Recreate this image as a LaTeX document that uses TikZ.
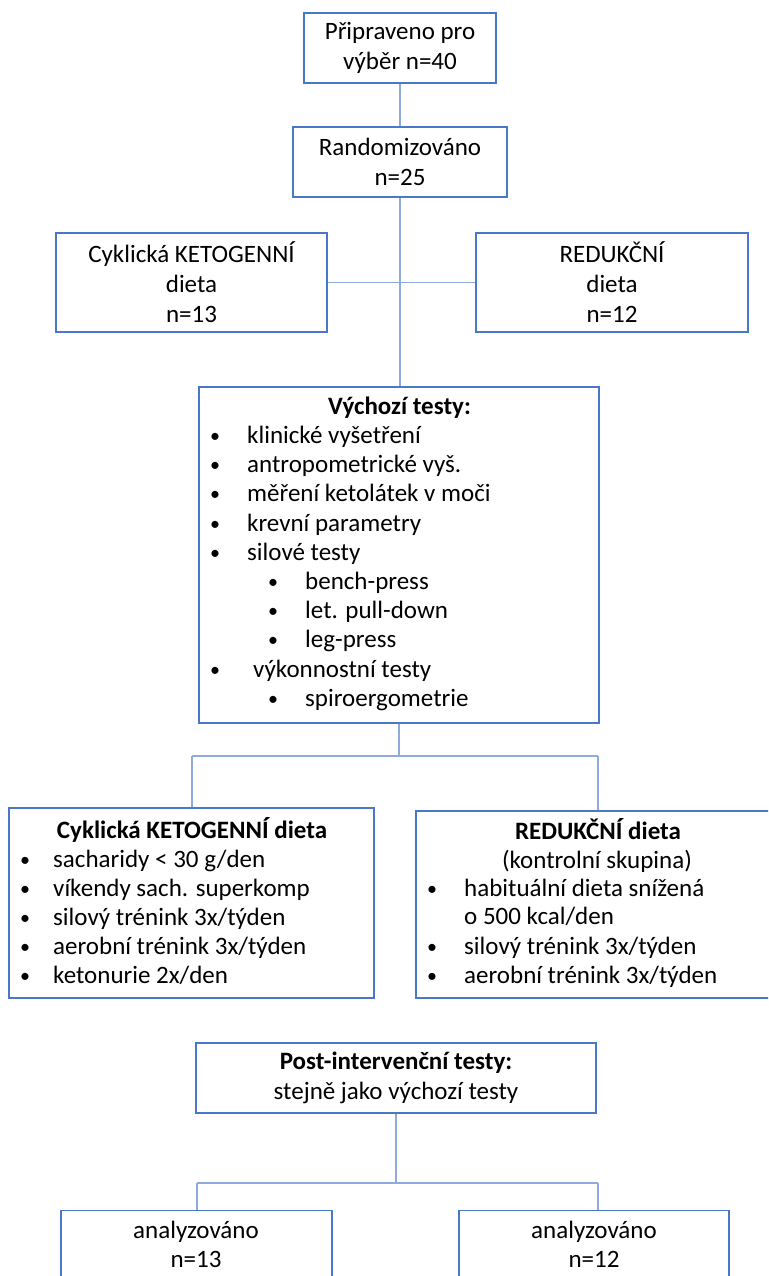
\documentclass[tikz,border=0pt]{standalone}
\usepackage{fontspec}
\setmainfont{Carlito}
\definecolor{boxblue}{HTML}{4A78C9}
\definecolor{linkblue}{HTML}{8FAADC}
\tikzset{
  box/.style={draw=boxblue, line width=1.5pt, fill=white, inner sep=0pt, align=center,
              font=\fontsize{25}{30}\selectfont},
  link/.style={draw=linkblue, line width=1.2pt},
  txt/.style={inner sep=0pt, font=\fontsize{25}{29}\selectfont, text height=17pt, text depth=5pt, anchor=west},
  ctxt/.style={txt, anchor=center},
  btxt/.style={ctxt, font=\fontsize{25}{29}\selectfont\bfseries},
  bul/.style={inner sep=0pt, anchor=center, font=\fontsize{20}{24}\selectfont},
}
\begin{document}
\begin{tikzpicture}[x=1pt, y=-1pt]
\useasboundingbox (0,0) rectangle (768,1276);
\clip (0,0) rectangle (768,1276);

% top boxes
\node[box, minimum width=192pt, minimum height=70pt] (b1) at (400,48) {Připraveno pro\\výběr n=40};
\node[box, minimum width=214pt, minimum height=70pt] (b2) at (400,162) {Randomizováno\\n=25};
\node[box, minimum width=271pt, minimum height=99pt] (ck1) at (191.5,282.5) {Cyklická KETOGENNÍ\\dieta\\n=13};
\node[box, minimum width=272pt, minimum height=99pt] (red1) at (612,282.5) {REDUKČNÍ\\dieta\\n=12};

% baseline tests
\node[box, minimum width=400pt, minimum height=336pt] (vych) at (399,555) {};
\node[btxt] (v0) at (399.5,408) {Výchozí testy:};
\node[bul] (v1b) at (215,438) {•};
\node[txt] (v1)  at (247,437.5) {klinické vyšetření};
\node[bul] (v2b) at (215,467) {•};
\node[txt] (v2)  at (247,466.5) {antropometrické vyš.};
\node[bul] (v3b) at (215,496) {•};
\node[txt] (v3)  at (247,495.5) {měření ketolátek v moči};
\node[bul] (v4b) at (215,525.5) {•};
\node[txt] (v4)  at (247,525) {krevní parametry};
\node[bul] (v5b) at (215,554.5) {•};
\node[txt] (v5)  at (247,554) {silové testy};
\node[bul] (v6b) at (273,584) {•};
\node[txt] (v6)  at (305,583.5) {bench-press};
\node[bul] (v7b) at (273,613) {•};
\node[txt] (v7)  at (305,612.5) {let. pull-down};
\node[bul] (v8b) at (273,642) {•};
\node[txt] (v8)  at (305,641.5) {leg-press};
\node[bul] (v9b) at (215,671.5) {•};
\node[txt] (v9)  at (253,671) {výkonnostní testy};
\node[bul] (v10b) at (273,700.5) {•};
\node[txt] (v10)  at (305,700) {spiroergometrie};

% ketogenic diet arm
\node[box, minimum width=365pt, minimum height=190pt] (ck2) at (191.5,903) {};
\node[btxt] (c0) at (192,832) {Cyklická KETOGENNÍ dieta};
\node[bul] (c1b) at (25,861.5) {•};
\node[txt] (c1)  at (53,861) {sacharidy < 30 g/den};
\node[bul] (c2b) at (25,890.5) {•};
\node[txt] (c2)  at (53,890) {víkendy sach. superkomp};
\node[bul] (c3b) at (25,919.5) {•};
\node[txt] (c3)  at (53,919) {silový trénink 3x/týden};
\node[bul] (c4b) at (25,948.5) {•};
\node[txt] (c4)  at (53,948) {aerobní trénink 3x/týden};
\node[bul] (c5b) at (25,977.5) {•};
\node[txt] (c5)  at (53,977) {ketonurie 2x/den};

% reduction diet arm
\node[box, minimum width=360pt, minimum height=187pt] (red2) at (596,904.5) {};
\node[btxt] (r0) at (598,833) {REDUKČNÍ dieta};
\node[ctxt] (r1) at (597,862) {(kontrolní skupina)};
\node[bul] (r2b) at (432,890.5) {•};
\node[txt] (r2)  at (464,890) {habituální dieta snížená};
\node[txt] (r3)  at (464,918.5) {o 500 kcal/den};
\node[bul] (r4b) at (432,948.5) {•};
\node[txt] (r4)  at (464,948) {silový trénink 3x/týden};
\node[bul] (r5b) at (432,977.5) {•};
\node[txt] (r5)  at (464,977) {aerobní trénink 3x/týden};

% post-intervention tests
\node[box, minimum width=400pt, minimum height=70pt] (post) at (396,1078) {};
\node[btxt] (p0) at (396,1063) {Post-intervenční testy:};
\node[ctxt] (p1) at (396,1093) {stejně jako výchozí testy};

% analysed
\node[box, anchor=north, minimum width=271pt, minimum height=110pt] (an1) at (196.5,1209.5) {};
\node[ctxt] (an1a) at (196,1232) {analyzováno};
\node[ctxt] (an1b) at (196,1261) {n=13};
\node[box, anchor=north, minimum width=270pt, minimum height=110pt] (an2) at (594,1209.5) {};
\node[ctxt] (an2a) at (594,1232) {analyzováno};
\node[ctxt] (an2b) at (594,1261) {n=12};

% connectors
\draw[link] (b1.south) -- (b2.north);
\draw[link] (b2.south) -- (b2.south |- vych.north);
\draw[link] (ck1.east) -- (red1.west);

\coordinate (j1) at (399,756);
\coordinate (jl) at (192,756);
\coordinate (jr) at (598,756);
\draw[link] (vych.south -| j1) -- (j1);
\draw[link] (jl) -- (jr);
\draw[link] (jl) -- (jl |- ck2.north);
\draw[link] (jr) -- (jr |- red2.north);

\coordinate (k1) at (396,1183);
\coordinate (kl) at (197,1183);
\coordinate (kr) at (598,1183);
\draw[link] (post.south) -- (k1);
\draw[link] (kl) -- (kr);
\draw[link] (kl) -- (kl |- an1.north);
\draw[link] (kr) -- (kr |- an2.north);
\end{tikzpicture}
\end{document}
